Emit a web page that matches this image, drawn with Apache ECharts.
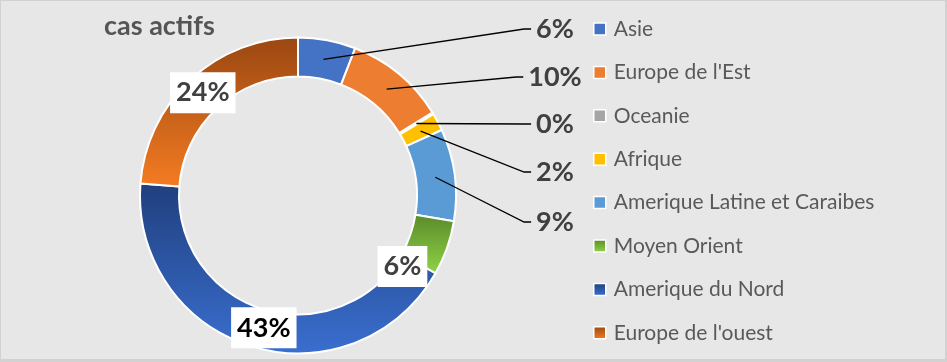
<!DOCTYPE html>
<html>
<head>
<meta charset="utf-8">
<script src="https://cdn.jsdelivr.net/npm/echarts@6/dist/echarts.min.js"></script>
<style>
html,body{margin:0;padding:0;background:#e7e7e7;}
#chart{width:947px;height:362px;box-sizing:border-box;border:1px solid #d2d2d2;border-right-width:2px;border-bottom-width:3px;}
</style>
</head>
<body>
<div id="chart"></div>
<script>
// ---- data ----
const titleText = 'cas actifs';
const categories = ['Asie', "Europe de l'Est", 'Oceanie', 'Afrique', 'Amerique Latine et Caraibes', 'Moyen Orient', 'Amerique du Nord', "Europe de l'ouest"];
const values = [5.9, 10.3, 0.2, 1.8, 9.4, 5.6, 43.0, 23.8];

// ---- style / layout ----
const CX = 297, CY = 194.5, R0 = 119, R1 = 158;
const labelColumnX = 554;
const labelRowY = [28, 76, 123, 171, 221];
const outsideCount = 5;
const insideShift = { 5: [-29, 24], 6: [7, -3], 7: [1, 1] };
const grad = (top, bottom) => new echarts.graphic.LinearGradient(0, 0, 0, 1, [
  { offset: 0, color: top }, { offset: 1, color: bottom }
]);
const colors = ['#4472c4', '#ed7d31', '#a5a5a5', '#ffc000', '#5b9bd5',
  grad('#5a8a2a', '#8fd445'), grad('#203f7d', '#3a6fd0'), grad('#9a4711', '#f47c22')];

const total = values.reduce((a, b) => a + b, 0);
function midPoint(i) {
  const cum = values.slice(0, i).reduce((a, b) => a + b, 0) + values[i] / 2;
  const a = cum / total * 2 * Math.PI;
  const rm = (R0 + R1) / 2;
  return [CX + rm * Math.sin(a), CY - rm * Math.cos(a)];
}

const labelFont = { fontFamily: 'Lato', fontWeight: 'bold', fontSize: 27 };

const sectorData = categories.map((name, i) => ({
  name: name, value: values[i], itemStyle: { color: colors[i] }
}));

const labelData = categories.map((name, i) => {
  const inside = i >= outsideCount;
  return {
    name: name,
    value: values[i],
    itemStyle: { color: 'rgba(0,0,0,0)', borderWidth: 0 },
    label: inside ? {
      position: 'inside',
      backgroundColor: '#ffffff',
      padding: [8, 6, 6, 6],
      color: i === 6 ? '#000000' : '#404040'
    } : { position: 'outside', color: '#404040' },
    labelLine: { show: !inside }
  };
});

const chart = echarts.init(document.getElementById('chart'));
chart.setOption({
  backgroundColor: '#e7e7e7',
  animation: false,
  title: {
    text: titleText,
    left: 98,
    top: 7,
    textStyle: { fontFamily: 'Lato', fontWeight: 'bold', fontSize: 27, color: '#555555' }
  },
  legend: {
    orient: 'vertical',
    left: 587,
    top: 11,
    itemWidth: 12,
    itemHeight: 12,
    itemGap: 19.4,
    icon: 'rect',
    itemStyle: { borderColor: '#ffffff', borderWidth: 1.5 },
    textStyle: { fontFamily: 'Lato', fontSize: 21, color: '#595959', lineHeight: 24, padding: [0, 0, 0, 3] },
    data: categories
  },
  series: [{
    type: 'pie',
    z: 2,
    center: [CX, CY],
    radius: [R0, R1],
    startAngle: 90,
    clockwise: true,
    avoidLabelOverlap: false,
    itemStyle: { borderColor: '#ffffff', borderWidth: 2 },
    label: { show: false },
    labelLine: { show: false },
    data: sectorData
  }, {
    type: 'pie',
    z: 5,
    silent: true,
    legendHoverLink: false,
    center: [CX, CY],
    radius: [R0, R1],
    startAngle: 90,
    clockwise: true,
    avoidLabelOverlap: false,
    label: Object.assign({
      show: true,
      formatter: p => Math.round(p.value / total * 100) + '%'
    }, labelFont),
    labelLine: { show: true, lineStyle: { color: '#000000', width: 1.3 } },
    labelLayout: function (params) {
      const i = params.dataIndex;
      if (i < outsideCount) {
        const w = params.labelRect.width;
        const x = labelColumnX, y = labelRowY[i];
        const left = x - w / 2;
        return {
          x: x, y: y, align: 'center', verticalAlign: 'middle',
          labelLinePoints: [midPoint(i), [left - 12, y], [left - 5, y]]
        };
      }
      const s = insideShift[i];
      return s ? { dx: s[0], dy: s[1] } : {};
    },
    data: labelData
  }]
});
</script>
</body>
</html>
